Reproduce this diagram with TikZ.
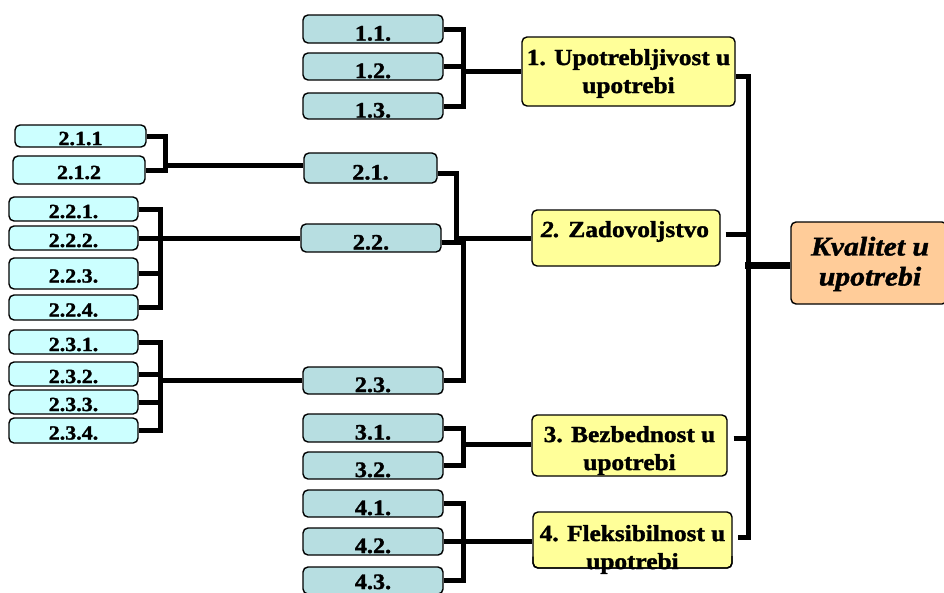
\documentclass[tikz,border=0pt]{standalone}
\usepackage{fontspec}
\setmainfont{Liberation Serif}[FakeStretch=1.1, BoldFeatures={FakeBold=1.5}, BoldItalicFeatures={FakeBold=1.5}]
\usetikzlibrary{calc}
\definecolor{tealbox}{RGB}{183,222,225}
\definecolor{cyanbox}{RGB}{204,255,255}
\definecolor{yelbox}{RGB}{255,255,153}
\definecolor{peachbox}{RGB}{255,204,153}
\begin{document}
\begin{tikzpicture}[x=1pt,y=-1pt,
  box/.style={draw=black, line width=1.4pt, rounded corners=5pt, inner sep=0pt, anchor=center},
  mid/.style={box, fill=tealbox, minimum width=140pt, minimum height=27pt,
    font=\fontsize{22}{26}\selectfont\bfseries, text height=23pt, text depth=0pt},
  leaf/.style={box, fill=cyanbox, minimum width=129pt, minimum height=24pt,
    font=\fontsize{20}{24}\selectfont\bfseries, text height=18pt, text depth=0pt},
  topic/.style={box, fill=yelbox},
  ytext/.style={inner sep=0pt, align=center, font=\fontsize{23}{28}\selectfont\bfseries},
  conn/.style={line width=5pt},
]
\useasboundingbox (0,0) rectangle (944,592);

% ---- level 3 boxes (left column)
\node[leaf, minimum width=131pt, minimum height=22pt] (l211) at (80.5,136) {2.1.1};
\node[leaf, minimum width=132pt, minimum height=28pt] (l212) at (79,170) {2.1.2};
\node[leaf] (l221) at (73.5,209) {2.2.1.};
\node[leaf] (l222) at (73.5,238) {2.2.2.};
\node[leaf, minimum height=31pt] (l223) at (73.5,273.5) {2.2.3.};
\node[leaf, minimum height=25pt] (l224) at (73.5,307.5) {2.2.4.};
\node[leaf] (l231) at (73.5,342) {2.3.1.};
\node[leaf] (l232) at (73.5,374) {2.3.2.};
\node[leaf] (l233) at (73.5,402) {2.3.3.};
\node[leaf, minimum height=25pt] (l234) at (73.5,430.5) {2.3.4.};

% ---- level 2 boxes (middle column)
\node[mid, minimum height=28pt] (n11) at (373,29) {1.1.};
\node[mid] (n12) at (373,66.5) {1.2.};
\node[mid, minimum height=26pt] (n13) at (373,106) {1.3.};
\node[mid, minimum width=133pt, minimum height=30pt] (n21) at (370.5,168) {2.1.};
\node[mid, minimum height=28pt] (n22) at (371,238) {2.2.};
\node[mid] (n23) at (373,380.5) {2.3.};
\node[mid, minimum height=28pt] (n31) at (373,428) {3.1.};
\node[mid] (n32) at (373,465.5) {3.2.};
\node[mid] (n41) at (373,503.5) {4.1.};
\node[mid] (n42) at (373,541.5) {4.2.};
% the lowest box runs past the bottom edge; its label is set on its own
\node[mid] (n43) at (373,580.5) {};
\node[inner sep=0pt, anchor=base, font=\fontsize{22}{26}\selectfont\bfseries] (n43t) at (373,589) {4.3.};

% ---- level 1 boxes
\node[topic, minimum width=213pt, minimum height=69pt] (u1) at (628.5,71.5) {};
\node[ytext] (u1t) at (628.5,73.5) {1. Upotrebljivost u\\upotrebi};
\node[topic, minimum width=188pt, minimum height=56pt] (u2) at (626,238) {};
\node[ytext] (u2t) at (625,231.5) {\textit{2.} Zadovoljstvo};
\node[topic, minimum width=195pt, minimum height=61pt] (u3) at (629.5,445.5) {};
\node[ytext] (u3t) at (629.5,450.5) {3. Bezbednost u\\upotrebi};
\node[topic, minimum width=199pt, minimum height=56pt] (u4) at (632.5,540) {};
\node[ytext] (u4t) at (632.5,549.5) {4. Fleksibilnost u\\upotrebi};
% the box outline runs over the lower text line
\draw[line width=1.4pt, rounded corners=5pt] ([shift={(0.7,-12)}]u4.south west) |- ([shift={(-0.7,-0.7)}]u4.south east) -- ++(0,-12);

% ---- root
\node[box, fill=peachbox, minimum width=156pt, minimum height=82pt] (k) at (869,263) {};
\node[ytext, font=\fontsize{27}{30}\selectfont\bfseries\itshape] (kt) at (870,264) {Kvalitet u\\upotrebi};

% ---- junction points
\coordinate (j1) at (463,71);
\coordinate (j211) at (165,165);
\coordinate (j22) at (160,238);
\coordinate (j23) at (160,380);
\coordinate (ja) at (456,238);
\coordinate (jb) at (463,380);
\coordinate (j3) at (463,444);
\coordinate (j4) at (463,542);
\coordinate (mtop) at (748,76);
\coordinate (m2) at (748,234);
\coordinate (m3) at (748,438);
\coordinate (mbot) at (748,537);
\coordinate (mk) at (745,265);

% ---- connectors: group 1
\draw[conn] (n11.east) -| (j1) |- (n13.east);
\draw[conn] (n12.east) -- (n12.east -| j1);
\draw[conn] (j1) -- (j1 -| u1.west);

% ---- connectors: group 2, left column
\draw[conn] (l211.east) -| (j211) |- (l212.east);
\draw[conn] (j211) -- (j211 -| n21.west);
\draw[conn] (l221.east) -| (j22) |- (l224.east);
\draw[conn] (l222.east) -- (n22.west);
\draw[conn] (l223.east) -- (l223.east -| j22);
\draw[conn] (l231.east) -| (j23) |- (l234.east);
\draw[conn] (l232.east) -- (l232.east -| j23);
\draw[conn] (l233.east) -- (l233.east -| j23);
\draw[conn] (j23) -- (j23 -| n23.west);

% ---- connectors: group 2, middle column
\draw[conn] ($(n21.east)+(0,5)$) -| (ja) -- (ja -| u2.west);
\draw[conn] ($(n22.east)+(0,4)$) -| (jb) -- (jb -| n23.east);

% ---- connectors: groups 3 and 4
\draw[conn] (n31.east) -| (j3) |- (n32.east);
\draw[conn] (j3) -- (j3 -| u3.west);
\draw[conn] (n41.east) -| (j4) |- (n43.east);
\draw[conn] (n42.east) -- (n42.east -| u4.west);

% ---- connectors to the root
\draw[conn, shorten >=5pt] (u1.east |- mtop) -| (mbot) -- (u4.east |- mbot);
\draw[conn, shorten <=5pt] (u2.east |- m2) -- (m2);
\draw[conn, shorten <=6pt] (u3.east |- m3) -- (m3);
\draw[line width=7pt] (mk) -- (mk -| k.west);
\end{tikzpicture}
\end{document}
